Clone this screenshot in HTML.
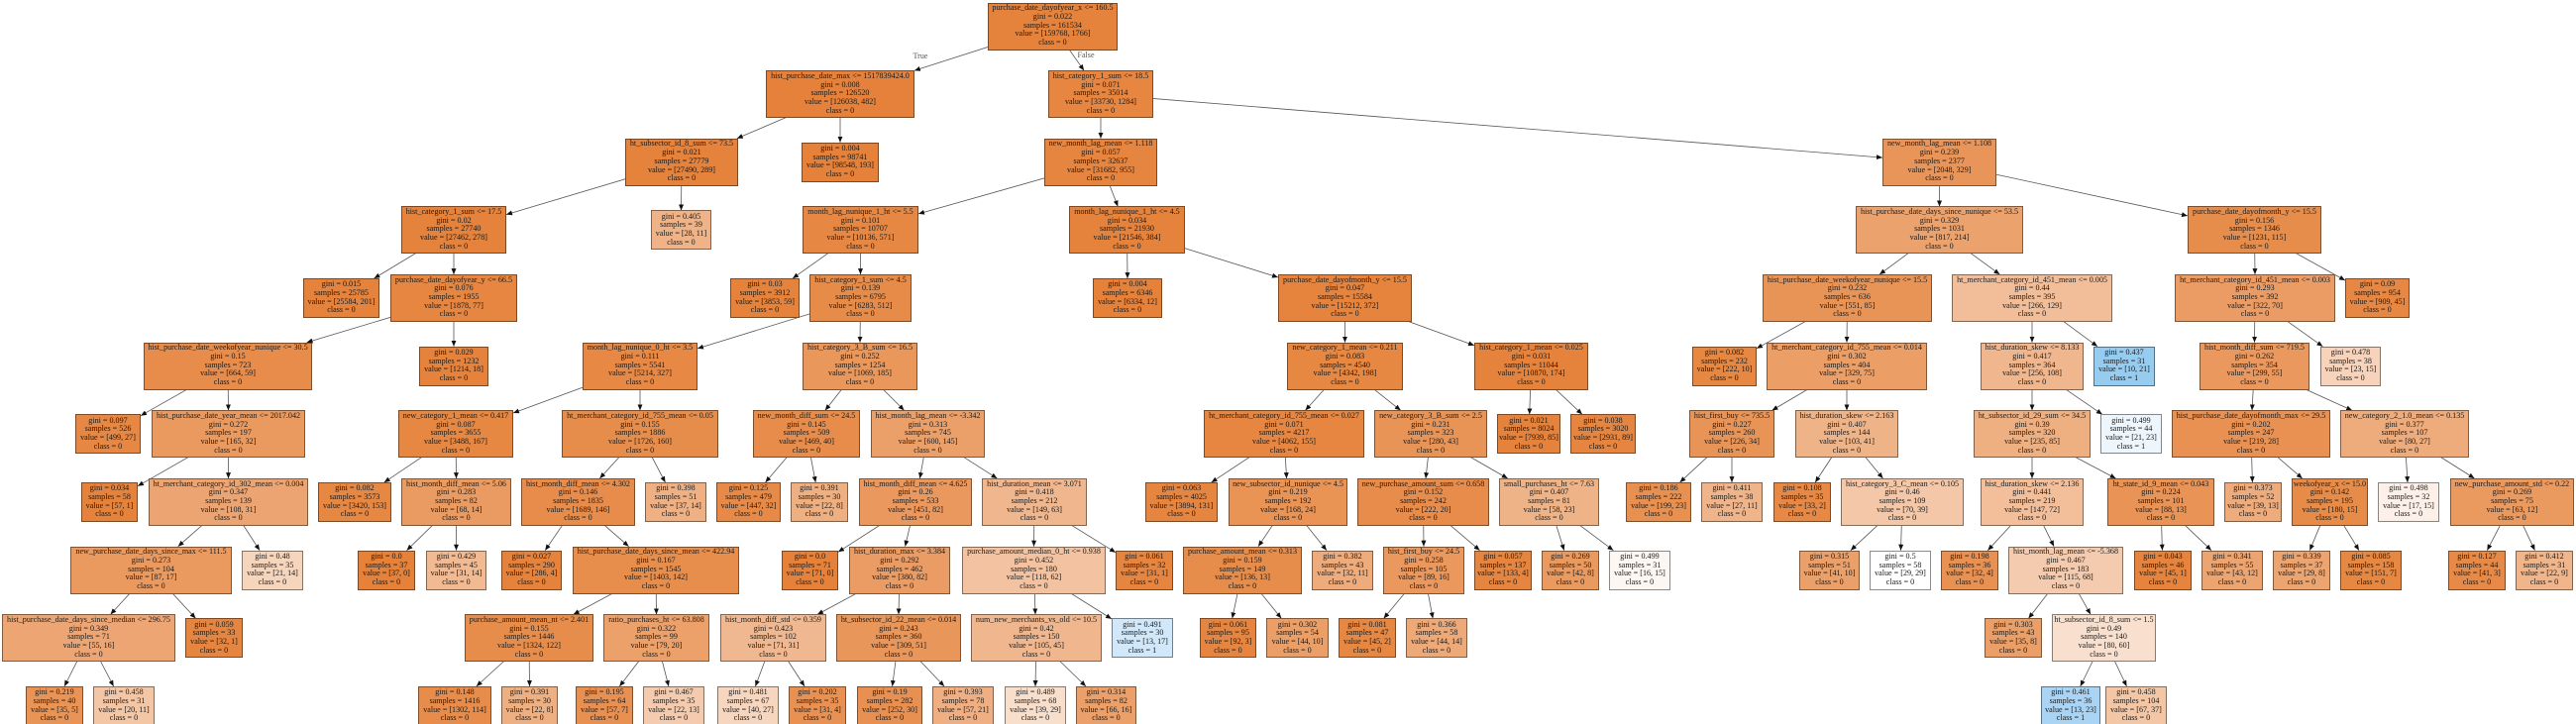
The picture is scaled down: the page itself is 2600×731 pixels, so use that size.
<!DOCTYPE html>
<html><head><meta charset="utf-8"><title>Decision tree</title>
<style>
html,body{margin:0;padding:0;background:#fff;width:2600px;height:731px;overflow:hidden}
#w{position:relative;width:2600px;height:731px;overflow:hidden;font-family:"Liberation Serif",serif;font-size:8.1px;line-height:8.67px;color:#1a1a1a}
svg{position:absolute;left:0;top:0}
#e path{stroke:#555;stroke-width:.8;fill:none;marker-end:url(#a)}
.n,.l{position:absolute;box-sizing:border-box;border:1px solid rgba(0,0,0,.45);text-align:center;white-space:nowrap}
.n{height:48px;padding-top:.7px}
.l{height:40px;padding-top:1.2px;margin-top:4px}
.t0{top:2.5px}.t1{top:71.15px}.t2{top:139.8px}.t3{top:208.45px}.t4{top:277.1px}.t5{top:345.75px}.t6{top:414.4px}.t7{top:483.05px}.t8{top:551.7px}.t9{top:620.35px}.t10{top:689px}
.b{position:absolute;color:#555;transform:translateX(-50%)}
</style></head><body><div id="w">
<svg width="2600" height="731" viewBox="0 0 2600 731">
<defs><marker id="a" markerUnits="userSpaceOnUse" markerWidth="7" markerHeight="6" refX="6" refY="2.5" orient="auto"><path d="M0 0L6 2.5L0 5z" fill="#111"/></marker></defs>
<g id="e">
<path d="M1062.5 26.5L922.9 71.2"/><path d="M1062.5 26.5L1094.1 71.2"/>
<path d="M848 95.2L743.8 139.8"/><path d="M848 95.2L848 143.8"/><path d="M1111 95.2L1111 139.8"/><path d="M1111 95.2L1900 159.1"/>
<path d="M688 163.8L511 216.6"/><path d="M688 163.8L687.5 212.5"/><path d="M1111 163.8L927 215.9"/><path d="M1111 163.8L1128.3 208.5"/><path d="M1957.5 163.8L1957.5 208.5"/><path d="M1957.5 163.8L2208 217.9"/>
<path d="M458 232.5L377.5 281.1"/><path d="M458 232.5L458 277.1"/><path d="M868.5 232.5L800 281.1"/><path d="M868.5 232.5L868.5 277.1"/><path d="M1137.5 232.5L1138 281.1"/><path d="M1137.5 232.5L1290 280"/><path d="M1957.5 232.5L1897 277.1"/><path d="M1957.5 232.5L2018.4 277.1"/><path d="M2275.5 232.5L2276 277.1"/><path d="M2275.5 232.5L2367 283.1"/>
<path d="M458 301.1L309.6 345.8"/><path d="M458 301.1L458 349.8"/><path d="M868.5 301.1L704 351.9"/><path d="M868.5 301.1L868 345.8"/><path d="M1357.5 301.1L1357.5 345.8"/><path d="M1357.5 301.1L1488 348.8"/><path d="M1864.5 301.1L1773 351.8"/><path d="M1864.5 301.1L1864 345.8"/><path d="M2051 301.1L2051 345.8"/><path d="M2051 301.1L2117 349.8"/><path d="M2276 301.1L2275.5 345.8"/><path d="M2276 301.1L2344.4 349.8"/>
<path d="M230 369.8L142 419.7"/><path d="M230 369.8L230.5 414.4"/><path d="M646 369.8L518 417"/><path d="M646 369.8L646 414.4"/><path d="M868 369.8L832.8 414.4"/><path d="M868 369.8L912.6 414.4"/><path d="M1357.5 369.8L1317.5 414.4"/><path d="M1357.5 369.8L1413.8 414.4"/><path d="M1545.5 369.8L1543.7 418.4"/><path d="M1545.5 369.8L1597 418.4"/><path d="M1864 369.8L1788.5 414.4"/><path d="M1864 369.8L1864 414.4"/><path d="M2051 369.8L2051 414.4"/><path d="M2051 369.8L2121.9 418.4"/><path d="M2275.5 369.8L2273 414.4"/><path d="M2275.5 369.8L2374.1 414.4"/>
<path d="M230.5 438.4L139 490.8"/><path d="M230.5 438.4L230.5 483.1"/><path d="M460 438.4L387.7 487.1"/><path d="M460 438.4L460.5 483.1"/><path d="M646 438.4L605.3 483.1"/><path d="M646 438.4L671.5 487.1"/><path d="M814 438.4L772.5 487.1"/><path d="M814 438.4L823.2 487.1"/><path d="M936.5 438.4L928.4 483.1"/><path d="M936.5 438.4L1006.5 483.1"/><path d="M1296 438.4L1222.6 487.1"/><path d="M1296 438.4L1298.6 483.1"/><path d="M1444 438.4L1439 483.1"/><path d="M1444 438.4L1521.8 483.1"/><path d="M1748 438.4L1695.5 487.1"/><path d="M1748 438.4L1748 487.1"/><path d="M1864 438.4L1832.1 487.1"/><path d="M1864 438.4L1900.5 483.1"/><path d="M2051 438.4L2051 483.1"/><path d="M2051 438.4L2135.6 483.1"/><path d="M2272 438.4L2273.4 487.1"/><path d="M2272 438.4L2323.8 483.1"/><path d="M2427 438.4L2430 487.1"/><path d="M2427 438.4L2497.6 483.1"/>
<path d="M230.5 507.1L179.7 551.7"/><path d="M230.5 507.1L262.1 555.7"/><path d="M460.5 507.1L410.5 555.7"/><path d="M460.5 507.1L460.5 555.7"/><path d="M583.5 507.1L550.2 555.7"/><path d="M583.5 507.1L634.6 551.7"/><path d="M924 507.1L846 557.3"/><path d="M924 507.1L913.6 551.7"/><path d="M1044 507.1L1043.5 551.7"/><path d="M1044 507.1L1126 557.8"/><path d="M1300 507.1L1270 551.7"/><path d="M1300 507.1L1339 555.7"/><path d="M1436.5 507.1L1437 551.7"/><path d="M1436.5 507.1L1493.6 555.7"/><path d="M1563.5 507.1L1578.7 555.7"/><path d="M1563.5 507.1L1628.4 555.7"/><path d="M1920 507.1L1867.9 555.7"/><path d="M1920 507.1L1918.5 555.7"/><path d="M2051 507.1L2006.3 555.7"/><path d="M2051 507.1L2073.1 551.7"/><path d="M2181 507.1L2182.4 555.7"/><path d="M2181 507.1L2232 555.7"/><path d="M2351.5 507.1L2331.3 555.7"/><path d="M2351.5 507.1L2381 555.7"/><path d="M2535.5 507.1L2510.3 555.7"/><path d="M2535.5 507.1L2558.5 555.7"/>
<path d="M152.5 575.7L111.5 620.4"/><path d="M152.5 575.7L197.5 624.4"/><path d="M662 575.7L578.7 620.4"/><path d="M662 575.7L662.5 620.4"/><path d="M908 575.7L825 620.4"/><path d="M908 575.7L907 620.4"/><path d="M1043.5 575.7L1045 620.4"/><path d="M1043.5 575.7L1122 624.9"/><path d="M1254 575.7L1243.7 624.4"/><path d="M1254 575.7L1293.3 624.4"/><path d="M1437 575.7L1396.6 624.4"/><path d="M1437 575.7L1446.2 624.4"/><path d="M2085 575.7L2047.4 624.4"/><path d="M2085 575.7L2110.1 620.4"/>
<path d="M89.5 644.4L65 693"/><path d="M89.5 644.4L114.7 693"/><path d="M534 644.4L480.8 693"/><path d="M534 644.4L534.5 693"/><path d="M662.5 644.4L625.3 693"/><path d="M662.5 644.4L674.9 693"/><path d="M780.5 644.4L762.4 693"/><path d="M780.5 644.4L812.1 693"/><path d="M907 644.4L900.6 693"/><path d="M907 644.4L953.1 693"/><path d="M1046 644.4L1045 693"/><path d="M1046 644.4L1096 693"/><path d="M2123.5 644.4L2099.7 693"/><path d="M2123.5 644.4L2146.5 693"/>
</g></svg>
<div class="b" style="left:929px;top:53px">True</div><div class="b" style="left:1096px;top:52px">False</div>

<div class="n t0" style="left:997px;width:131px;background:#e5823b">purchase_date_dayofyear_x &lt;= 160.5<br>gini = 0.022<br>samples = 161534<br>value = [159768, 1766]<br>class = 0</div>

<div class="n t1" style="left:773px;width:150px;background:#e5813a">hist_purchase_date_max &lt;= 1517839424.0<br>gini = 0.008<br>samples = 126520<br>value = [126038, 482]<br>class = 0</div>
<div class="n t1" style="left:1058px;width:106px;background:#e68641">hist_category_1_sum &lt;= 18.5<br>gini = 0.071<br>samples = 35014<br>value = [33730, 1284]<br>class = 0</div>

<div class="n t2" style="left:631px;width:114px;background:#e5823b">ht_subsector_id_8_sum &lt;= 73.5<br>gini = 0.021<br>samples = 27779<br>value = [27490, 289]<br>class = 0</div>
<div class="l t2" style="left:809px;width:78px;background:#e58139">gini = 0.004<br>samples = 98741<br>value = [98548, 193]<br>class = 0</div>
<div class="n t2" style="left:1054px;width:114px;background:#e6853f">new_month_lag_mean &lt;= 1.118<br>gini = 0.057<br>samples = 32637<br>value = [31682, 955]<br>class = 0</div>
<div class="n t2" style="left:1900px;width:115px;background:#e99559">new_month_lag_mean &lt;= 1.108<br>gini = 0.239<br>samples = 2377<br>value = [2048, 329]<br>class = 0</div>

<div class="n t3" style="left:405px;width:106px;background:#e5823b">hist_category_1_sum &lt;= 17.5<br>gini = 0.02<br>samples = 27740<br>value = [27462, 278]<br>class = 0</div>
<div class="l t3" style="left:657px;width:61px;background:#efb387">gini = 0.405<br>samples = 39<br>value = [28, 11]<br>class = 0</div>
<div class="n t3" style="left:810px;width:117px;background:#e68844">month_lag_nunique_1_ht &lt;= 5.5<br>gini = 0.101<br>samples = 10707<br>value = [10136, 571]<br>class = 0</div>
<div class="n t3" style="left:1079px;width:117px;background:#e5833d">month_lag_nunique_1_ht &lt;= 4.5<br>gini = 0.034<br>samples = 21930<br>value = [21546, 384]<br>class = 0</div>
<div class="n t3" style="left:1873px;width:169px;background:#eca26d">hist_purchase_date_days_since_nunique &lt;= 53.5<br>gini = 0.329<br>samples = 1031<br>value = [817, 214]<br>class = 0</div>
<div class="n t3" style="left:2208px;width:135px;background:#e78d4b">purchase_date_dayofmonth_y &lt;= 15.5<br>gini = 0.156<br>samples = 1346<br>value = [1231, 115]<br>class = 0</div>

<div class="l t4" style="left:306px;width:77px;background:#e5823b">gini = 0.015<br>samples = 25785<br>value = [25584, 201]<br>class = 0</div>
<div class="n t4" style="left:394px;width:128px;background:#e68641">purchase_date_dayofyear_y &lt;= 66.5<br>gini = 0.076<br>samples = 1955<br>value = [1878, 77]<br>class = 0</div>
<div class="l t4" style="left:737px;width:70px;background:#e5833c">gini = 0.03<br>samples = 3912<br>value = [3853, 59]<br>class = 0</div>
<div class="n t4" style="left:817px;width:103px;background:#e78b49">hist_category_1_sum &lt;= 4.5<br>gini = 0.139<br>samples = 6795<br>value = [6283, 512]<br>class = 0</div>
<div class="l t4" style="left:1103px;width:70px;background:#e58139">gini = 0.004<br>samples = 6346<br>value = [6334, 12]<br>class = 0</div>
<div class="n t4" style="left:1290px;width:135px;background:#e6843e">purchase_date_dayofmonth_y &lt;= 15.5<br>gini = 0.047<br>samples = 15584<br>value = [15212, 372]<br>class = 0</div>
<div class="n t4" style="left:1779px;width:171px;background:#e99457">hist_purchase_date_weekofyear_nunique &lt;= 15.5<br>gini = 0.232<br>samples = 636<br>value = [551, 85]<br>class = 0</div>
<div class="n t4" style="left:1970px;width:162px;background:#f2be99">ht_merchant_category_id_451_mean &lt;= 0.005<br>gini = 0.44<br>samples = 395<br>value = [266, 129]<br>class = 0</div>
<div class="n t4" style="left:2195px;width:162px;background:#eb9c64">ht_merchant_category_id_451_mean &lt;= 0.003<br>gini = 0.293<br>samples = 392<br>value = [322, 70]<br>class = 0</div>
<div class="l t4" style="left:2367px;width:65px;background:#e68743">gini = 0.09<br>samples = 954<br>value = [909, 45]<br>class = 0</div>

<div class="n t5" style="left:145px;width:170px;background:#e78c4b">hist_purchase_date_weekofyear_nunique &lt;= 30.5<br>gini = 0.15<br>samples = 723<br>value = [664, 59]<br>class = 0</div>
<div class="l t5" style="left:423px;width:70px;background:#e5833c">gini = 0.029<br>samples = 1232<br>value = [1214, 18]<br>class = 0</div>
<div class="n t5" style="left:588px;width:116px;background:#e78945">month_lag_nunique_0_ht &lt;= 3.5<br>gini = 0.111<br>samples = 5541<br>value = [5214, 327]<br>class = 0</div>
<div class="n t5" style="left:810px;width:116px;background:#e9975b">hist_category_3_B_sum &lt;= 16.5<br>gini = 0.252<br>samples = 1254<br>value = [1069, 185]<br>class = 0</div>
<div class="n t5" style="left:1299px;width:117px;background:#e68742">new_category_1_mean &lt;= 0.211<br>gini = 0.083<br>samples = 4540<br>value = [4342, 198]<br>class = 0</div>
<div class="n t5" style="left:1488px;width:115px;background:#e5833c">hist_category_1_mean &lt;= 0.025<br>gini = 0.031<br>samples = 11044<br>value = [10870, 174]<br>class = 0</div>
<div class="l t5" style="left:1708px;width:65px;background:#e68742">gini = 0.082<br>samples = 232<br>value = [222, 10]<br>class = 0</div>
<div class="n t5" style="left:1783px;width:162px;background:#eb9e66">ht_merchant_category_id_755_mean &lt;= 0.014<br>gini = 0.302<br>samples = 404<br>value = [329, 75]<br>class = 0</div>
<div class="n t5" style="left:1999px;width:104px;background:#f0b68d">hist_duration_skew &lt;= 8.133<br>gini = 0.417<br>samples = 364<br>value = [256, 108]<br>class = 0</div>
<div class="l t5" style="left:2113px;width:62px;background:#97ccf1">gini = 0.437<br>samples = 31<br>value = [10, 21]<br>class = 1</div>
<div class="n t5" style="left:2220px;width:111px;background:#ea985d">hist_month_diff_sum &lt;= 719.5<br>gini = 0.262<br>samples = 354<br>value = [299, 55]<br>class = 0</div>
<div class="l t5" style="left:2342px;width:61px;background:#f6d3ba">gini = 0.478<br>samples = 38<br>value = [23, 15]<br>class = 0</div>

<div class="l t6" style="left:76px;width:66px;background:#e68844">gini = 0.097<br>samples = 526<br>value = [499, 27]<br>class = 0</div>
<div class="n t6" style="left:153px;width:155px;background:#ea995f">hist_purchase_date_year_mean &lt;= 2017.042<br>gini = 0.272<br>samples = 197<br>value = [165, 32]<br>class = 0</div>
<div class="n t6" style="left:402px;width:116px;background:#e68742">new_category_1_mean &lt;= 0.417<br>gini = 0.087<br>samples = 3655<br>value = [3488, 167]<br>class = 0</div>
<div class="n t6" style="left:567px;width:158px;background:#e78d4b">ht_merchant_category_id_755_mean &lt;= 0.05<br>gini = 0.155<br>samples = 1886<br>value = [1726, 160]<br>class = 0</div>
<div class="n t6" style="left:760px;width:108px;background:#e78c4a">new_month_diff_sum &lt;= 24.5<br>gini = 0.145<br>samples = 509<br>value = [469, 40]<br>class = 0</div>
<div class="n t6" style="left:879px;width:115px;background:#eb9f69">hist_month_lag_mean &lt;= -3.342<br>gini = 0.313<br>samples = 745<br>value = [600, 145]<br>class = 0</div>
<div class="n t6" style="left:1215px;width:162px;background:#e68641">ht_merchant_category_id_755_mean &lt;= 0.027<br>gini = 0.071<br>samples = 4217<br>value = [4062, 155]<br>class = 0</div>
<div class="n t6" style="left:1387px;width:114px;background:#e99457">new_category_3_B_sum &lt;= 2.5<br>gini = 0.231<br>samples = 323<br>value = [280, 43]<br>class = 0</div>
<div class="l t6" style="left:1511px;width:64px;background:#e5823b">gini = 0.021<br>samples = 8024<br>value = [7939, 85]<br>class = 0</div>
<div class="l t6" style="left:1585px;width:66px;background:#e6853f">gini = 0.038<br>samples = 3020<br>value = [2931, 89]<br>class = 0</div>
<div class="n t6" style="left:1705px;width:86px;background:#e99457">hist_first_buy &lt;= 735.5<br>gini = 0.227<br>samples = 260<br>value = [226, 34]<br>class = 0</div>
<div class="n t6" style="left:1812px;width:104px;background:#efb388">hist_duration_skew &lt;= 2.163<br>gini = 0.407<br>samples = 144<br>value = [103, 41]<br>class = 0</div>
<div class="n t6" style="left:1992px;width:118px;background:#eeaf81">ht_subsector_id_29_sum &lt;= 34.5<br>gini = 0.39<br>samples = 320<br>value = [235, 85]<br>class = 0</div>
<div class="l t6" style="left:2120px;width:62px;background:#eef6fd">gini = 0.499<br>samples = 44<br>value = [21, 23]<br>class = 1</div>
<div class="n t6" style="left:2192px;width:160px;background:#e89152">hist_purchase_date_dayofmonth_max &lt;= 29.5<br>gini = 0.202<br>samples = 247<br>value = [219, 28]<br>class = 0</div>
<div class="n t6" style="left:2362px;width:130px;background:#eeac7c">new_category_2_1.0_mean &lt;= 0.135<br>gini = 0.377<br>samples = 107<br>value = [80, 27]<br>class = 0</div>

<div class="l t7" style="left:82px;width:57px;background:#e5833d">gini = 0.034<br>samples = 58<br>value = [57, 1]<br>class = 0</div>
<div class="n t7" style="left:150px;width:161px;background:#eca572">ht_merchant_category_id_302_mean &lt;= 0.004<br>gini = 0.347<br>samples = 139<br>value = [108, 31]<br>class = 0</div>
<div class="l t7" style="left:321px;width:74px;background:#e68742">gini = 0.082<br>samples = 3573<br>value = [3420, 153]<br>class = 0</div>
<div class="n t7" style="left:405px;width:111px;background:#ea9b62">hist_month_diff_mean &lt;= 5.06<br>gini = 0.283<br>samples = 82<br>value = [68, 14]<br>class = 0</div>
<div class="n t7" style="left:526px;width:115px;background:#e78c4a">hist_month_diff_mean &lt;= 4.302<br>gini = 0.146<br>samples = 1835<br>value = [1689, 146]<br>class = 0</div>
<div class="l t7" style="left:651px;width:62px;background:#efb184">gini = 0.398<br>samples = 51<br>value = [37, 14]<br>class = 0</div>
<div class="l t7" style="left:723px;width:65px;background:#e78a47">gini = 0.125<br>samples = 479<br>value = [447, 32]<br>class = 0</div>
<div class="l t7" style="left:798px;width:58px;background:#eeaf81">gini = 0.391<br>samples = 30<br>value = [22, 8]<br>class = 0</div>
<div class="n t7" style="left:867px;width:114px;background:#ea985d">hist_month_diff_mean &lt;= 4.625<br>gini = 0.26<br>samples = 533<br>value = [451, 82]<br>class = 0</div>
<div class="n t7" style="left:991px;width:106px;background:#f0b68d">hist_duration_mean &lt;= 3.071<br>gini = 0.418<br>samples = 212<br>value = [149, 63]<br>class = 0</div>
<div class="l t7" style="left:1156px;width:73px;background:#e68540">gini = 0.063<br>samples = 4025<br>value = [3894, 131]<br>class = 0</div>
<div class="n t7" style="left:1240px;width:120px;background:#e99355">new_subsector_id_nunique &lt;= 4.5<br>gini = 0.219<br>samples = 192<br>value = [168, 24]<br>class = 0</div>
<div class="n t7" style="left:1370px;width:133px;background:#e78c4b">new_purchase_amount_sum &lt;= 0.658<br>gini = 0.152<br>samples = 242<br>value = [222, 20]<br>class = 0</div>
<div class="n t7" style="left:1513px;width:101px;background:#efb388">small_purchases_ht &lt;= 7.63<br>gini = 0.407<br>samples = 81<br>value = [58, 23]<br>class = 0</div>
<div class="l t7" style="left:1641px;width:66px;background:#e89050">gini = 0.186<br>samples = 222<br>value = [199, 23]<br>class = 0</div>
<div class="l t7" style="left:1717px;width:62px;background:#f0b48a">gini = 0.411<br>samples = 38<br>value = [27, 11]<br>class = 0</div>
<div class="l t7" style="left:1790px;width:58px;background:#e78945">gini = 0.108<br>samples = 35<br>value = [33, 2]<br>class = 0</div>
<div class="n t7" style="left:1858px;width:124px;background:#f3c7a7">hist_category_3_C_mean &lt;= 0.105<br>gini = 0.46<br>samples = 109<br>value = [70, 39]<br>class = 0</div>
<div class="n t7" style="left:1999px;width:104px;background:#f2bf9a">hist_duration_skew &lt;= 2.136<br>gini = 0.441<br>samples = 219<br>value = [147, 72]<br>class = 0</div>
<div class="n t7" style="left:2127px;width:108px;background:#e99456">ht_state_id_9_mean &lt;= 0.043<br>gini = 0.224<br>samples = 101<br>value = [88, 13]<br>class = 0</div>
<div class="l t7" style="left:2245px;width:58px;background:#eeab7b">gini = 0.373<br>samples = 52<br>value = [39, 13]<br>class = 0</div>
<div class="n t7" style="left:2313px;width:77px;background:#e78b49">weekofyear_x &lt;= 15.0<br>gini = 0.142<br>samples = 195<br>value = [180, 15]<br>class = 0</div>
<div class="l t7" style="left:2400px;width:62px;background:#fcf0e8">gini = 0.498<br>samples = 32<br>value = [17, 15]<br>class = 0</div>
<div class="n t7" style="left:2473px;width:125px;background:#ea995f">new_purchase_amount_std &lt;= 0.22<br>gini = 0.269<br>samples = 75<br>value = [63, 12]<br>class = 0</div>

<div class="n t8" style="left:71px;width:163px;background:#ea995f">new_purchase_date_days_since_max &lt;= 111.5<br>gini = 0.273<br>samples = 104<br>value = [87, 17]<br>class = 0</div>
<div class="l t8" style="left:244px;width:62px;background:#f6d5bd">gini = 0.48<br>samples = 35<br>value = [21, 14]<br>class = 0</div>
<div class="l t8" style="left:361px;width:58px;background:#e58139">gini = 0.0<br>samples = 37<br>value = [37, 0]<br>class = 0</div>
<div class="l t8" style="left:430px;width:61px;background:#f1ba92">gini = 0.429<br>samples = 45<br>value = [31, 14]<br>class = 0</div>
<div class="l t8" style="left:506px;width:61px;background:#e5833c">gini = 0.027<br>samples = 290<br>value = [286, 4]<br>class = 0</div>
<div class="n t8" style="left:578px;width:168px;background:#e88e4d">hist_purchase_date_days_since_mean &lt;= 422.94<br>gini = 0.167<br>samples = 1545<br>value = [1403, 142]<br>class = 0</div>
<div class="l t8" style="left:789px;width:57px;background:#e58139">gini = 0.0<br>samples = 71<br>value = [71, 0]<br>class = 0</div>
<div class="n t8" style="left:857px;width:102px;background:#eb9c64">hist_duration_max &lt;= 3.384<br>gini = 0.292<br>samples = 462<br>value = [380, 82]<br>class = 0</div>
<div class="n t8" style="left:971px;width:145px;background:#f3c3a1">purchase_amount_median_0_ht &lt;= 0.938<br>gini = 0.452<br>samples = 180<br>value = [118, 62]<br>class = 0</div>
<div class="l t8" style="left:1126px;width:58px;background:#e6853f">gini = 0.061<br>samples = 32<br>value = [31, 1]<br>class = 0</div>
<div class="n t8" style="left:1194px;width:120px;background:#e78d4c">purchase_amount_mean &lt;= 0.313<br>gini = 0.159<br>samples = 149<br>value = [136, 13]<br>class = 0</div>
<div class="l t8" style="left:1324px;width:62px;background:#eeac7d">gini = 0.382<br>samples = 43<br>value = [32, 11]<br>class = 0</div>
<div class="n t8" style="left:1396px;width:82px;background:#ea985d">hist_first_buy &lt;= 24.5<br>gini = 0.258<br>samples = 105<br>value = [89, 16]<br>class = 0</div>
<div class="l t8" style="left:1488px;width:58px;background:#e6853f">gini = 0.057<br>samples = 137<br>value = [133, 4]<br>class = 0</div>
<div class="l t8" style="left:1556px;width:58px;background:#ea995f">gini = 0.269<br>samples = 50<br>value = [42, 8]<br>class = 0</div>
<div class="l t8" style="left:1624px;width:62px;background:#fdf7f3">gini = 0.499<br>samples = 31<br>value = [16, 15]<br>class = 0</div>
<div class="l t8" style="left:1816px;width:61px;background:#eba069">gini = 0.315<br>samples = 51<br>value = [41, 10]<br>class = 0</div>
<div class="l t8" style="left:1887px;width:62px;background:#ffffff">gini = 0.5<br>samples = 58<br>value = [29, 29]<br>class = 0</div>
<div class="l t8" style="left:1959px;width:58px;background:#e89152">gini = 0.198<br>samples = 36<br>value = [32, 4]<br>class = 0</div>
<div class="n t8" style="left:2027px;width:116px;background:#f4cbae">hist_month_lag_mean &lt;= -5.368<br>gini = 0.467<br>samples = 183<br>value = [115, 68]<br>class = 0</div>
<div class="l t8" style="left:2154px;width:58px;background:#e6843d">gini = 0.043<br>samples = 46<br>value = [45, 1]<br>class = 0</div>
<div class="l t8" style="left:2222px;width:62px;background:#eca470">gini = 0.341<br>samples = 55<br>value = [43, 12]<br>class = 0</div>
<div class="l t8" style="left:2294px;width:58px;background:#eca470">gini = 0.339<br>samples = 37<br>value = [29, 8]<br>class = 0</div>
<div class="l t8" style="left:2362px;width:62px;background:#e68742">gini = 0.085<br>samples = 158<br>value = [151, 7]<br>class = 0</div>
<div class="l t8" style="left:2471px;width:58px;background:#e78a47">gini = 0.127<br>samples = 44<br>value = [41, 3]<br>class = 0</div>
<div class="l t8" style="left:2539px;width:58px;background:#f0b58a">gini = 0.412<br>samples = 31<br>value = [22, 9]<br>class = 0</div>

<div class="n t9" style="left:2px;width:175px;background:#eda673">hist_purchase_date_days_since_median &lt;= 296.75<br>gini = 0.349<br>samples = 71<br>value = [55, 16]<br>class = 0</div>
<div class="l t9" style="left:187px;width:58px;background:#e6853f">gini = 0.059<br>samples = 33<br>value = [32, 1]<br>class = 0</div>
<div class="n t9" style="left:469px;width:130px;background:#e78d4b">purchase_amount_mean_nt &lt;= 2.401<br>gini = 0.155<br>samples = 1446<br>value = [1324, 122]<br>class = 0</div>
<div class="n t9" style="left:609px;width:107px;background:#eca16b">ratio_purchases_ht &lt;= 63.808<br>gini = 0.322<br>samples = 99<br>value = [79, 20]<br>class = 0</div>
<div class="n t9" style="left:727px;width:107px;background:#f0b890">hist_month_diff_std &lt;= 0.359<br>gini = 0.423<br>samples = 102<br>value = [71, 31]<br>class = 0</div>
<div class="n t9" style="left:844px;width:126px;background:#e9965a">ht_subsector_id_22_mean &lt;= 0.014<br>gini = 0.243<br>samples = 360<br>value = [309, 51]<br>class = 0</div>
<div class="n t9" style="left:980px;width:132px;background:#f0b78e">num_new_merchants_vs_old &lt;= 10.5<br>gini = 0.42<br>samples = 150<br>value = [105, 45]<br>class = 0</div>
<div class="l t9" style="left:1122px;width:62px;background:#d0e8f9">gini = 0.491<br>samples = 30<br>value = [13, 17]<br>class = 1</div>
<div class="l t9" style="left:1211px;width:57px;background:#e6853f">gini = 0.061<br>samples = 95<br>value = [92, 3]<br>class = 0</div>
<div class="l t9" style="left:1278px;width:63px;background:#eb9e66">gini = 0.302<br>samples = 54<br>value = [44, 10]<br>class = 0</div>
<div class="l t9" style="left:1351px;width:58px;background:#e68742">gini = 0.081<br>samples = 47<br>value = [45, 2]<br>class = 0</div>
<div class="l t9" style="left:1419px;width:62px;background:#eda978">gini = 0.366<br>samples = 58<br>value = [44, 14]<br>class = 0</div>
<div class="l t9" style="left:2003px;width:58px;background:#eb9e66">gini = 0.303<br>samples = 43<br>value = [35, 8]<br>class = 0</div>
<div class="n t9" style="left:2071px;width:105px;background:#f9e0ce">ht_subsector_id_8_sum &lt;= 1.5<br>gini = 0.49<br>samples = 140<br>value = [80, 60]<br>class = 0</div>

<div class="l t10" style="left:26px;width:58px;background:#e99355">gini = 0.219<br>samples = 40<br>value = [35, 5]<br>class = 0</div>
<div class="l t10" style="left:94px;width:62px;background:#f3c6a6">gini = 0.458<br>samples = 31<br>value = [20, 11]<br>class = 0</div>
<div class="l t10" style="left:422px;width:74px;background:#e78c4a">gini = 0.148<br>samples = 1416<br>value = [1302, 114]<br>class = 0</div>
<div class="l t10" style="left:506px;width:57px;background:#eeaf81">gini = 0.391<br>samples = 30<br>value = [22, 8]<br>class = 0</div>
<div class="l t10" style="left:581px;width:58px;background:#e89051">gini = 0.195<br>samples = 64<br>value = [57, 7]<br>class = 0</div>
<div class="l t10" style="left:649px;width:62px;background:#f4cbae">gini = 0.467<br>samples = 35<br>value = [22, 13]<br>class = 0</div>
<div class="l t10" style="left:724px;width:62px;background:#f7d6bf">gini = 0.481<br>samples = 67<br>value = [40, 27]<br>class = 0</div>
<div class="l t10" style="left:796px;width:58px;background:#e89153">gini = 0.202<br>samples = 35<br>value = [31, 4]<br>class = 0</div>
<div class="l t10" style="left:865px;width:66px;background:#e89051">gini = 0.19<br>samples = 282<br>value = [252, 30]<br>class = 0</div>
<div class="l t10" style="left:941px;width:62px;background:#efaf82">gini = 0.393<br>samples = 78<br>value = [57, 21]<br>class = 0</div>
<div class="l t10" style="left:1014px;width:62px;background:#f8dfcc">gini = 0.489<br>samples = 68<br>value = [39, 29]<br>class = 0</div>
<div class="l t10" style="left:1086px;width:61px;background:#eb9f69">gini = 0.314<br>samples = 82<br>value = [66, 16]<br>class = 0</div>
<div class="l t10" style="left:2060px;width:60px;background:#a9d4f4">gini = 0.461<br>samples = 36<br>value = [13, 23]<br>class = 1</div>
<div class="l t10" style="left:2125px;width:62px;background:#f3c7a6">gini = 0.458<br>samples = 104<br>value = [67, 37]<br>class = 0</div>
</div></body></html>
